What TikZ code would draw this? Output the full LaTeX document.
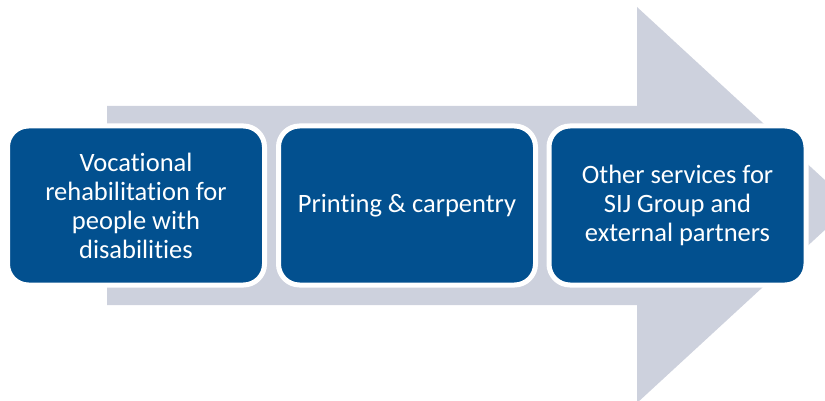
\documentclass[tikz,border=0pt]{standalone}
\usepackage{fontspec}
\setmainfont[RawFeature=-liga]{Carlito}
\definecolor{arrowgray}{HTML}{CDD1DD}
\definecolor{boxblue}{HTML}{02508F}
\begin{document}
\begin{tikzpicture}[x=1pt,y=-1pt,
  stage/.style={rounded corners=21pt, fill=boxblue, draw=white, line width=5pt,
    minimum width=257pt, minimum height=159pt, text=white, align=center,
    font=\fontsize{26.5pt}{29pt}\selectfont, inner sep=0pt}]
\useasboundingbox (0,0) rectangle (825,401);
\clip (0,0) rectangle (825,401);
\fill[arrowgray] (107,106) -- (637,106) -- (637,7) -- (852,205) -- (637,403)
  -- (637,305) -- (107,305) -- cycle;
\node[stage] (b1) at (136,205.5) {Vocational\\rehabilitation for\\people with\\disabilities};
\node[stage] (b2) at (407,205.5) {Printing \& carpentry};
\node[stage] (b3) at (677.5,205.5) {Other services for\\SIJ Group and\\external partners};
\end{tikzpicture}
\end{document}
